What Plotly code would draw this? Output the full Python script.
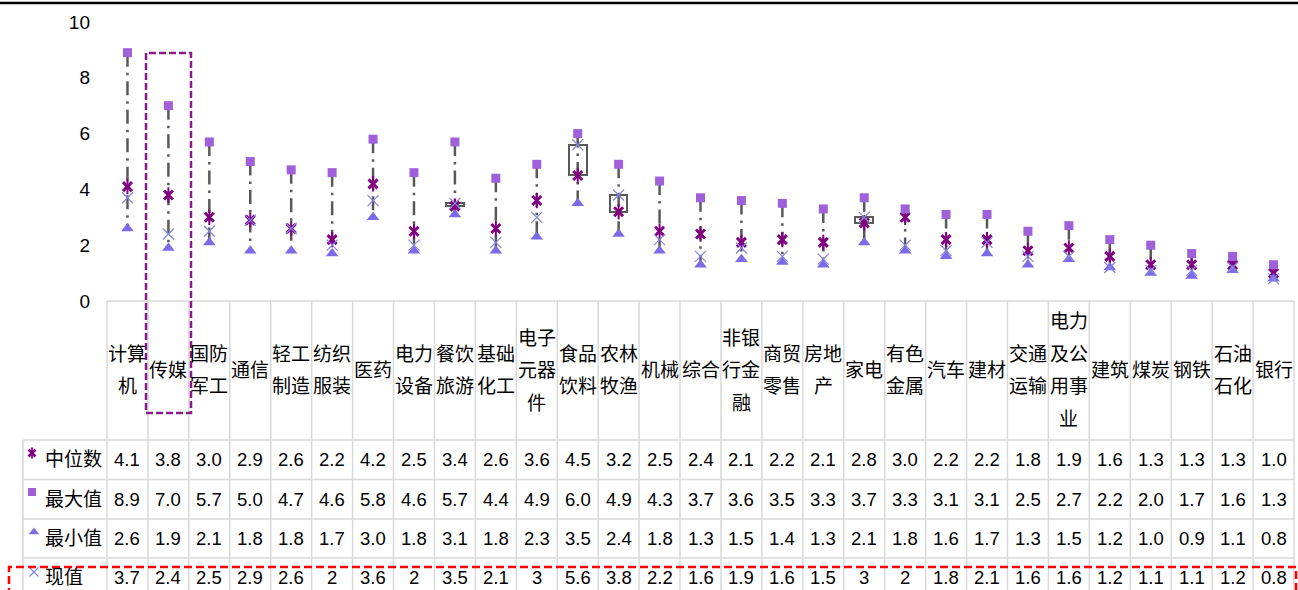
import plotly.graph_objects as go

# ---------------- data ----------------
categories = ["计算机", "传媒", "国防军工", "通信", "轻工制造", "纺织服装", "医药", "电力设备",
              "餐饮旅游", "基础化工", "电子元器件", "食品饮料", "农林牧渔", "机械", "综合",
              "非银行金融", "商贸零售", "房地产", "家电", "有色金属", "汽车", "建材", "交通运输",
              "电力及公用事业", "建筑", "煤炭", "钢铁", "石油石化", "银行"]
median_vals = [4.1, 3.8, 3.0, 2.9, 2.6, 2.2, 4.2, 2.5, 3.4, 2.6, 3.6, 4.5, 3.2, 2.5, 2.4,
               2.1, 2.2, 2.1, 2.8, 3.0, 2.2, 2.2, 1.8, 1.9, 1.6, 1.3, 1.3, 1.3, 1.0]
max_vals = [8.9, 7.0, 5.7, 5.0, 4.7, 4.6, 5.8, 4.6, 5.7, 4.4, 4.9, 6.0, 4.9, 4.3, 3.7,
            3.6, 3.5, 3.3, 3.7, 3.3, 3.1, 3.1, 2.5, 2.7, 2.2, 2.0, 1.7, 1.6, 1.3]
min_vals = [2.6, 1.9, 2.1, 1.8, 1.8, 1.7, 3.0, 1.8, 3.1, 1.8, 2.3, 3.5, 2.4, 1.8, 1.3,
            1.5, 1.4, 1.3, 2.1, 1.8, 1.6, 1.7, 1.3, 1.5, 1.2, 1.0, 0.9, 1.1, 0.8]
current_vals = [3.7, 2.4, 2.5, 2.9, 2.6, 2, 3.6, 2, 3.5, 2.1, 3, 5.6, 3.8, 2.2, 1.6,
                1.9, 1.6, 1.5, 3, 2, 1.8, 2.1, 1.6, 1.6, 1.2, 1.1, 1.1, 1.2, 0.8]
series_names = ["中位数", "最大值", "最小值", "现值"]
y_ticks = [0, 2, 4, 6, 8, 10]

# ---------------- geometry helpers (pixels -> paper) ----------------
W, H = 1298, 590
PL, PR = 107, 1294          # plot area left/right px
PT, PB = 22, 301            # y=10 and y=0 px
LEG_L = 23                  # left border of the legend column
ROW_EDGES = [301, 440, 479.5, 519, 558, 597.5]
LINE_SP = 32.5


def fx(p):
    return p / W


def fy(p):
    return 1 - p / H


n = len(categories)
idx = list(range(n))

C_MED = "#800080"
C_MAX = "#A060DA"
C_MIN = "#7B6BE6"
C_CUR = "#8585E0"
C_HL = "#595959"
C_GRID = "#D9D9D9"
FONT = "Liberation Sans, Arial, Noto Sans CJK SC, sans-serif"

fig = go.Figure()

# high-low lines
hl_x, hl_y = [], []
for i in idx:
    hl_x += [i, i, None]
    hl_y += [max_vals[i], min_vals[i], None]
fig.add_trace(go.Scatter(x=hl_x, y=hl_y, mode="lines", hoverinfo="skip",
                         line=dict(color=C_HL, width=2.5, dash="14px,6px,2.5px,6px"),
                         showlegend=False))

# up bars (current above median), down bars invisible
up_h = [(c - m) if c > m else None for c, m in zip(current_vals, median_vals)]
up_base = [m if c > m else None for c, m in zip(current_vals, median_vals)]
fig.add_trace(go.Bar(x=idx, y=up_h, base=up_base, width=0.43,
                     marker=dict(color="white", line=dict(color=C_HL, width=2)),
                     showlegend=False, hoverinfo="skip"))

# markers
fig.add_trace(go.Scatter(x=idx, y=median_vals, mode="markers", name=series_names[0],
                         marker=dict(symbol="x-thin-open", size=9, color=C_MED,
                                     line=dict(color=C_MED, width=3)), showlegend=False))
fig.add_trace(go.Scatter(x=idx, y=median_vals, mode="markers", hoverinfo="skip",
                         marker=dict(symbol="line-ns-open", size=11, color=C_MED,
                                     line=dict(color=C_MED, width=2)), showlegend=False))
fig.add_trace(go.Scatter(x=idx, y=max_vals, mode="markers", name=series_names[1],
                         marker=dict(symbol="square", size=9, color=C_MAX), showlegend=False))
fig.add_trace(go.Scatter(x=idx, y=min_vals, mode="markers", name=series_names[2],
                         marker=dict(symbol="triangle-up", size=11, color=C_MIN), showlegend=False))
fig.add_trace(go.Scatter(x=idx, y=current_vals, mode="markers", name=series_names[3],
                         marker=dict(symbol="x-thin-open", size=11, color=C_CUR,
                                     line=dict(color=C_CUR, width=1.2)), showlegend=False))

# legend symbols inside the table (pixel-unit helper axes)
leg_px_x = [32, 32, 34, 34]
leg_px_y = [453, 492, 532, 572]
fig.add_trace(go.Scatter(x=[leg_px_x[0]], y=[leg_px_y[0]], xaxis="x2", yaxis="y2", mode="markers",
                         marker=dict(symbol="x-thin-open", size=7, color=C_MED,
                                     line=dict(color=C_MED, width=2.5)),
                         showlegend=False, hoverinfo="skip"))
fig.add_trace(go.Scatter(x=[leg_px_x[0]], y=[leg_px_y[0]], xaxis="x2", yaxis="y2", mode="markers",
                         marker=dict(symbol="line-ns-open", size=8, color=C_MED,
                                     line=dict(color=C_MED, width=1.8)),
                         showlegend=False, hoverinfo="skip"))
fig.add_trace(go.Scatter(x=[leg_px_x[1]], y=[leg_px_y[1]], xaxis="x2", yaxis="y2", mode="markers",
                         marker=dict(symbol="square", size=8, color=C_MAX),
                         showlegend=False, hoverinfo="skip"))
fig.add_trace(go.Scatter(x=[leg_px_x[2]], y=[leg_px_y[2]], xaxis="x2", yaxis="y2", mode="markers",
                         marker=dict(symbol="triangle-up", size=9, color=C_MIN),
                         showlegend=False, hoverinfo="skip"))
fig.add_trace(go.Scatter(x=[leg_px_x[3]], y=[leg_px_y[3]], xaxis="x2", yaxis="y2", mode="markers",
                         marker=dict(symbol="x-thin-open", size=9, color=C_CUR,
                                     line=dict(color=C_CUR, width=1.2)),
                         showlegend=False, hoverinfo="skip"))

# ---------------- table ----------------
shapes = []
# top black rule
shapes.append(dict(type="line", xref="paper", yref="paper", x0=0, x1=1, y0=fy(3), y1=fy(3),
                   line=dict(color="black", width=2.5)))
# table top border
shapes.append(dict(type="line", xref="paper", yref="paper", x0=fx(PL), x1=fx(PR),
                   y0=fy(ROW_EDGES[0]), y1=fy(ROW_EDGES[0]), line=dict(color=C_GRID, width=1.5)))
for e in ROW_EDGES[1:5]:
    shapes.append(dict(type="line", xref="paper", yref="paper", x0=fx(LEG_L), x1=fx(PR),
                       y0=fy(e), y1=fy(e), line=dict(color=C_GRID, width=1.5)))
# vertical borders
for i in range(1, n):
    shapes.append(dict(type="line", xref="x", yref="paper", x0=i - 0.5, x1=i - 0.5,
                       y0=fy(ROW_EDGES[0]), y1=fy(610), line=dict(color=C_GRID, width=1.5)))
for p in (PL, PR):
    shapes.append(dict(type="line", xref="paper", yref="paper", x0=fx(p), x1=fx(p),
                       y0=fy(ROW_EDGES[0]), y1=fy(610), line=dict(color=C_GRID, width=1.5)))
shapes.append(dict(type="line", xref="paper", yref="paper", x0=fx(LEG_L), x1=fx(LEG_L),
                   y0=fy(ROW_EDGES[1]), y1=fy(610), line=dict(color=C_GRID, width=1.5)))
# highlight boxes
shapes.append(dict(type="rect", xref="paper", yref="paper", x0=fx(146), x1=fx(191),
                   y0=fy(413), y1=fy(53), line=dict(color="#8B1A8B", width=2.5, dash="7px,3px")))
shapes.append(dict(type="rect", xref="paper", yref="paper", x0=fx(9), x1=fx(1296),
                   y0=fy(612), y1=fy(567), line=dict(color="#FF0000", width=2.5, dash="8px,4px")))

annotations = []
# category header (wrapped every two characters)
hdr_c = (ROW_EDGES[0] + ROW_EDGES[1]) / 2
for i, name in enumerate(categories):
    lines = [name[k:k + 2] for k in range(0, len(name), 2)]
    L = len(lines)
    for k, t in enumerate(lines):
        yp = hdr_c + (k - (L - 1) / 2) * LINE_SP
        annotations.append(dict(x=i, xref="x", y=fy(yp), yref="paper", text=t, showarrow=False,
                                xanchor="center", yanchor="middle",
                                font=dict(size=19, color="#000000", family=FONT)))

rows = [median_vals, max_vals, min_vals, current_vals]
for r, vals in enumerate(rows):
    yc = (ROW_EDGES[r + 1] + ROW_EDGES[r + 2]) / 2
    annotations.append(dict(x=fx(43), xref="paper", y=fy(yc), yref="paper", text=series_names[r],
                            showarrow=False, xanchor="left", yanchor="middle",
                            font=dict(size=19, color="#000000", family=FONT)))
    for i, v in enumerate(vals):
        txt = f"{v:g}" if r == 3 else f"{v:.1f}"
        annotations.append(dict(x=i, xref="x", y=fy(yc), yref="paper", text=txt, showarrow=False,
                                xanchor="center", yanchor="middle",
                                font=dict(size=18.5, color="#000000", family=FONT)))

fig.update_layout(
    width=W, height=H, autosize=False,
    margin=dict(l=0, r=0, t=0, b=0, pad=0, autoexpand=False),
    paper_bgcolor="white", plot_bgcolor="white",
    font=dict(family=FONT, color="#000000"),
    xaxis=dict(domain=[fx(PL), fx(PR)], range=[-0.5, n - 0.5], showgrid=False, zeroline=False,
               showticklabels=False, showline=False, ticks="", fixedrange=True, automargin=False),
    yaxis=dict(domain=[fy(PB), fy(PT)], range=[0, 10], tickvals=y_ticks, showgrid=False,
               zeroline=False, showline=False, ticks="", ticklabelstandoff=16, automargin=False,
               tickfont=dict(size=19, color="#000000", family=FONT), fixedrange=True),
    xaxis2=dict(domain=[0, fx(PL)], range=[0, PL], anchor="y2", visible=False, automargin=False),
    yaxis2=dict(domain=[0, fy(ROW_EDGES[1])], range=[H, ROW_EDGES[1]], anchor="x2", visible=False,
                automargin=False),
    shapes=shapes,
    annotations=annotations,
    showlegend=False,
    bargap=0,
)

fig.write_html("out.html", config={"displayModeBar": False},
               post_script="document.body.style.margin='0';document.body.style.overflow='hidden';")
